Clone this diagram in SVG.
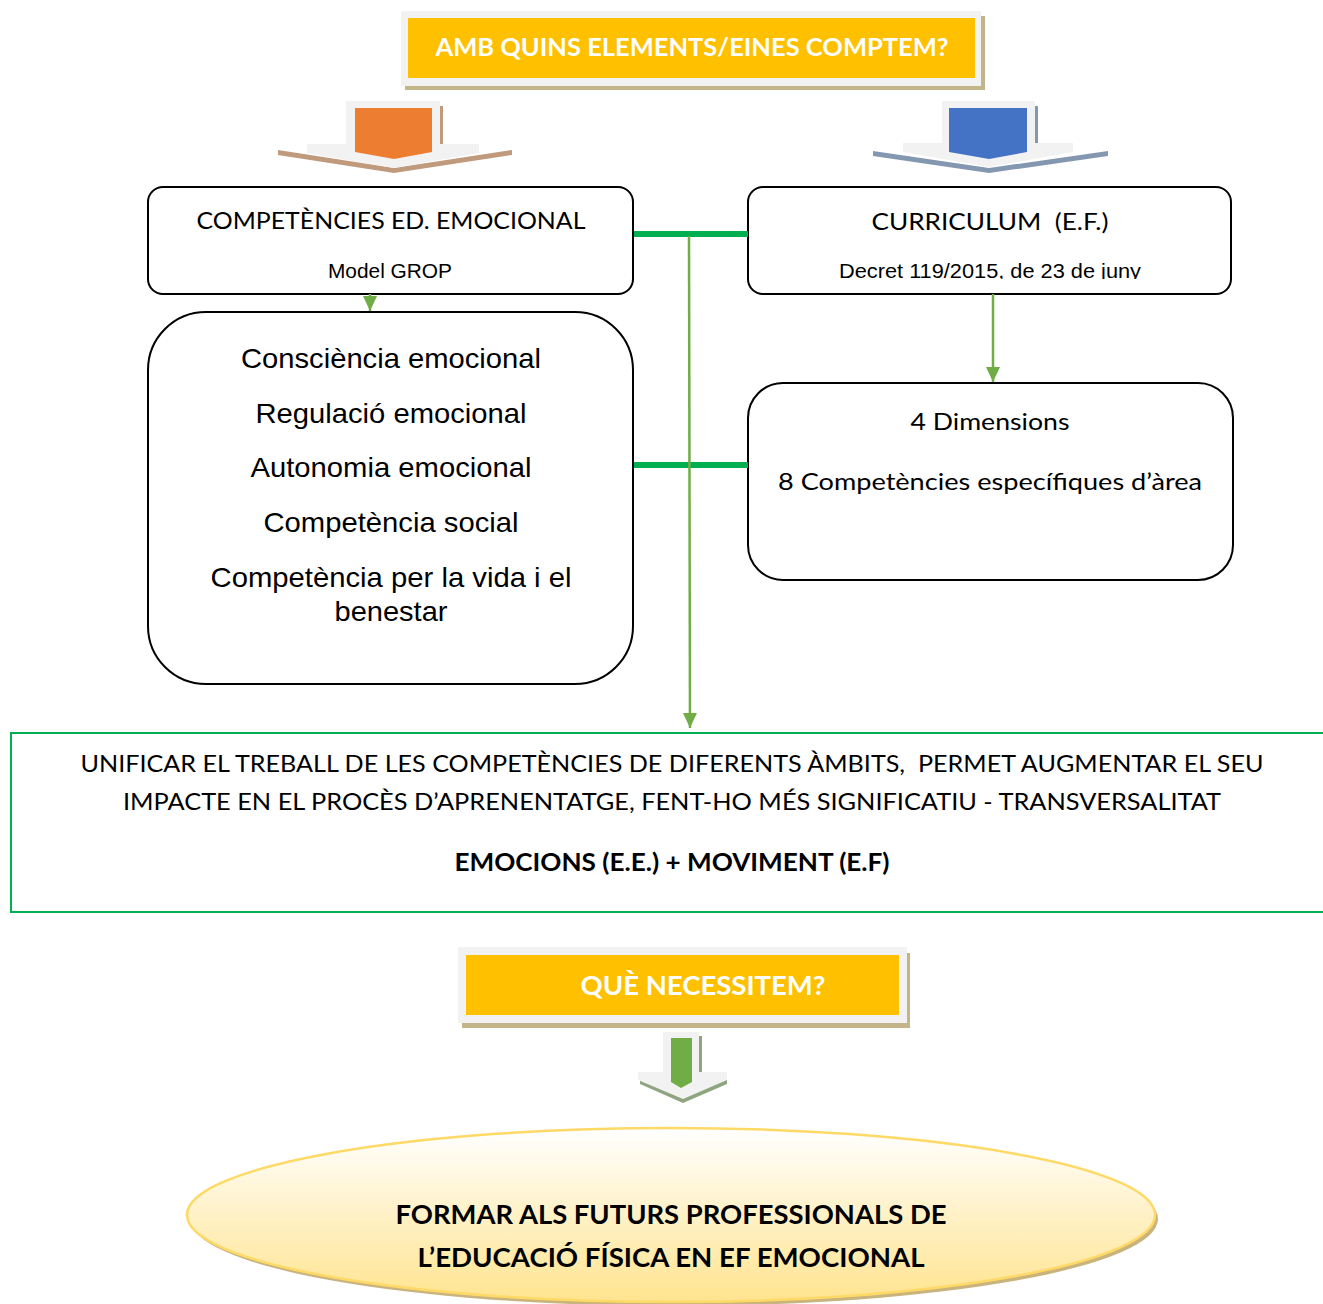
<svg xmlns="http://www.w3.org/2000/svg" width="1323" height="1304" viewBox="0 0 1323 1304">
<style>
  .cal { font-family: Lato, Carlito, "Liberation Sans", sans-serif; fill: #000; }
  .ari { font-family: "Liberation Sans", Arial, sans-serif; fill: #000; }
  .ban { font-family: Lato, Carlito, "Liberation Sans", sans-serif; font-weight: bold; fill: #fff; }
  .box { fill: #fff; stroke: #000; stroke-width: 2; }
  .thick { stroke: #00b050; stroke-width: 6; fill: none; }
  .thin { stroke: #70ad47; stroke-width: 2.5; fill: none; }
  .gray { fill: #f2f2f2; }
</style>
<defs>
  <marker id="ah" viewBox="0 0 15 14" refX="15" refY="7" markerWidth="15" markerHeight="14" markerUnits="userSpaceOnUse" orient="auto">
    <path d="M0,0 L15,7 L0,14 z" fill="#70ad47"/>
  </marker>
  <linearGradient id="eg" x1="0" y1="0" x2="0" y2="1">
    <stop offset="0" stop-color="#ffffff"/>
    <stop offset="1" stop-color="#ffe48f"/>
  </linearGradient>
  <clipPath id="clipDecret"><rect x="760" y="240" width="460" height="39"/></clipPath>
</defs>
<rect width="1323" height="1304" fill="#fff"/>

<g id="title-banner">
  <rect x="405" y="16" width="580" height="74" fill="#c4b48a"/>
  <rect x="401" y="11" width="580" height="75" fill="#f2f2f2"/>
  <rect x="408" y="18" width="567" height="60" fill="#ffc000"/>
  <text class="ban" x="692" y="56" font-size="25" text-anchor="middle" textLength="513" lengthAdjust="spacingAndGlyphs">AMB QUINS ELEMENTS/EINES COMPTEM?</text>
</g>

<g id="arrow-orange">
  <polygon points="278,150 394,168 512,150 512,155 394,173 278,155" fill="#c09a7c"/>
  <rect x="440" y="106" width="3" height="38" fill="#c09a7c"/>
  <polygon class="gray" points="346,101 440,101 440,144 479,144 479,153 394,168 307,153 307,144 346,144"/>
  <polygon points="355,108 432,108 432,152 394,159 355,152" fill="#ed7d31"/>
</g>

<g id="arrow-blue">
  <polygon points="873,151 989,168 1108,151 1108,156 989,173 873,156" fill="#8497b0"/>
  <rect x="1035" y="106" width="3" height="37" fill="#8497b0"/>
  <polygon class="gray" points="942,101 1035,101 1035,143 1073,143 1073,152 989,167 903,152 903,143 942,143"/>
  <polygon points="949,108 1027,108 1027,152 989,159 949,152" fill="#4472c4"/>
</g>

<g id="node-competencies">
  <rect class="box" x="148" y="187" width="485" height="107" rx="15"/>
  <text class="cal" x="391" y="229" font-size="24" text-anchor="middle" textLength="389" lengthAdjust="spacingAndGlyphs">COMPETÈNCIES ED. EMOCIONAL</text>
  <text class="ari" x="390" y="278" font-size="21" text-anchor="middle" textLength="124" lengthAdjust="spacingAndGlyphs">Model GROP</text>
</g>

<g id="node-curriculum">
  <rect class="box" x="748" y="187" width="483" height="107" rx="15"/>
  <text class="cal" x="990" y="230" font-size="24" text-anchor="middle" textLength="237" lengthAdjust="spacingAndGlyphs" xml:space="preserve">CURRICULUM  (E.F.)</text>
  <text class="ari" x="990" y="278" font-size="20" text-anchor="middle" textLength="302" lengthAdjust="spacingAndGlyphs" clip-path="url(#clipDecret)">Decret 119/2015, de 23 de juny</text>
</g>

<g id="node-grop-list">
  <rect class="box" x="148" y="312" width="485" height="372" rx="58"/>
  <g class="ari" font-size="28" text-anchor="middle">
    <text x="391" y="368" textLength="300" lengthAdjust="spacingAndGlyphs">Consciència emocional</text>
    <text x="391" y="423" textLength="271" lengthAdjust="spacingAndGlyphs">Regulació emocional</text>
    <text x="391" y="477" textLength="281" lengthAdjust="spacingAndGlyphs">Autonomia emocional</text>
    <text x="391" y="532" textLength="255" lengthAdjust="spacingAndGlyphs">Competència social</text>
    <text x="391" y="587" textLength="361" lengthAdjust="spacingAndGlyphs">Competència per la vida i el</text>
    <text x="391" y="621" textLength="113" lengthAdjust="spacingAndGlyphs">benestar</text>
  </g>
</g>

<g id="node-dimensions">
  <rect class="box" x="748" y="383" width="485" height="197" rx="35"/>
  <text class="cal" x="990" y="430" font-size="24" text-anchor="middle" textLength="159" lengthAdjust="spacingAndGlyphs">4 Dimensions</text>
  <text class="cal" x="990" y="490" font-size="24" text-anchor="middle" textLength="424" lengthAdjust="spacingAndGlyphs">8 Competències específiques d’àrea</text>
</g>

<g id="node-unificar">
  <rect x="11" y="733" width="1322" height="179" fill="#fff" stroke="#00b050" stroke-width="2"/>
  <text class="cal" x="672" y="772" font-size="24" text-anchor="middle" textLength="1183" lengthAdjust="spacingAndGlyphs" xml:space="preserve">UNIFICAR EL TREBALL DE LES COMPETÈNCIES DE DIFERENTS ÀMBITS,  PERMET AUGMENTAR EL SEU</text>
  <text class="cal" x="672" y="810" font-size="24" text-anchor="middle" textLength="1098" lengthAdjust="spacingAndGlyphs">IMPACTE EN EL PROCÈS D’APRENENTATGE, FENT-HO MÉS SIGNIFICATIU - TRANSVERSALITAT</text>
  <text class="cal" x="672" y="871" font-size="24" font-weight="bold" text-anchor="middle" textLength="435" lengthAdjust="spacingAndGlyphs">EMOCIONS (E.E.) + MOVIMENT (E.F)</text>
</g>

<g id="need-banner">
  <rect x="462" y="953" width="448" height="75" fill="#c4b48a"/>
  <rect x="458" y="947" width="449" height="76" fill="#f2f2f2"/>
  <rect x="466" y="955" width="433" height="60" fill="#ffc000"/>
  <text class="ban" x="703" y="995" font-size="26" text-anchor="middle" textLength="245" lengthAdjust="spacingAndGlyphs">QUÈ NECESSITEM?</text>
</g>

<g id="arrow-green">
  <polygon points="640,1079 683,1098 727,1079 727,1084 683,1103 640,1084" fill="#8fa57f"/>
  <rect x="699" y="1036" width="3" height="36" fill="#8fa57f"/>
  <polygon class="gray" points="663,1032 699,1032 699,1072 727,1072 727,1080 683,1099 638,1080 638,1072 663,1072"/>
  <polygon points="671,1038 692,1038 692,1082 681,1088 671,1082" fill="#70ad47"/>
</g>

<g id="node-formar">
  <ellipse cx="674" cy="1219" rx="484" ry="87" fill="#c9b47e"/>
  <ellipse cx="671" cy="1215" rx="484" ry="87" fill="url(#eg)" stroke="#ffd966" stroke-width="2.5"/>
  <text class="cal" x="671" y="1224" font-size="27" font-weight="bold" text-anchor="middle" textLength="551" lengthAdjust="spacingAndGlyphs">FORMAR ALS FUTURS PROFESSIONALS DE</text>
  <text class="cal" x="671" y="1267" font-size="27" font-weight="bold" text-anchor="middle" textLength="507" lengthAdjust="spacingAndGlyphs">L’EDUCACIÓ FÍSICA EN EF EMOCIONAL</text>
</g>

<g id="connectors">
  <line class="thick" x1="634" y1="234" x2="748" y2="234"/>
  <line class="thick" x1="634" y1="465" x2="748" y2="465"/>
  <line class="thin" x1="689" y1="236" x2="690" y2="728" marker-end="url(#ah)"/>
  <line class="thin" x1="370" y1="294" x2="370" y2="311" marker-end="url(#ah)"/>
  <line class="thin" x1="993" y1="294" x2="993" y2="382" marker-end="url(#ah)"/>
</g>
</svg>
